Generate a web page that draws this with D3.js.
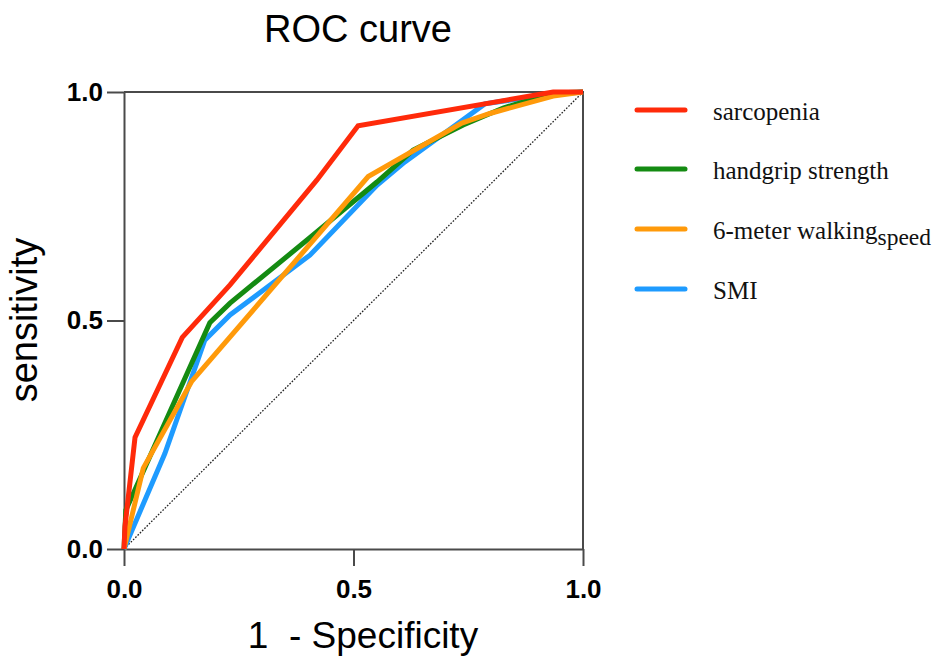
<!DOCTYPE html>
<html>
<head>
<meta charset="utf-8">
<script src="https://cdn.jsdelivr.net/npm/d3@7"></script>
<style>
  html, body { margin: 0; padding: 0; background: #fff; }
  svg { display: block; }
</style>
</head>
<body>
<svg id="chart" width="936" height="660"></svg>
<script>
// ---- data ----
const seriesNames = ["sarcopenia", "handgrip strength", "6-meter walking", "SMI"];
const seriesColors = ["#ff2a0a", "#148b12", "#ff9a0a", "#1e9bff"];

const sarcopeniaFPR = [0, 0.002, 0.024, 0.127, 0.231, 0.420, 0.510, 0.935, 1];
const sarcopeniaTPR = [0, 0.048, 0.244, 0.463, 0.578, 0.807, 0.926, 1.0, 1];

const handgripFPR = [0, 0.004, 0.187, 0.231, 0.412, 0.551, 0.630, 0.739, 0.826, 0.935, 1];
const handgripTPR = [0, 0.085, 0.495, 0.538, 0.687, 0.803, 0.873, 0.928, 0.965, 0.998, 1];

const walkingFPR = [0, 0.042, 0.147, 0.532, 0.736, 0.797, 0.935, 1];
const walkingTPR = [0, 0.177, 0.366, 0.815, 0.932, 0.953, 0.991, 1];

const smiFPR = [0, 0.089, 0.176, 0.231, 0.405, 0.551, 0.612, 0.786, 0.913, 1];
const smiTPR = [0, 0.209, 0.457, 0.512, 0.643, 0.796, 0.847, 0.974, 0.993, 1];

const tickValues = [0, 0.5, 1.0];
const chartTitle = "ROC curve";
const xTitle = "1  - Specificity";
const yTitle = "sensitivity";

(function () {
// ---- layout ----
const svg = d3.select("#chart");
const pLeft = 124, pRight = 583, pTop = 92, pBottom = 549;
const x = d3.scaleLinear().domain([0, 1]).range([pLeft, pRight]);
const y = d3.scaleLinear().domain([0, 1]).range([pBottom, pTop]);
const axisColor = "#4a4a4a";

// frame (top & right)
svg.append("path")
  .attr("d", `M${x(0)},${y(1)}H${x(1)}V${y(0)}`)
  .attr("fill", "none").attr("stroke", axisColor).attr("stroke-width", 2);

// diagonal reference
svg.append("line")
  .attr("x1", x(0)).attr("y1", y(0)).attr("x2", x(1)).attr("y2", y(1))
  .attr("stroke", "#222").attr("stroke-width", 1.3).attr("stroke-dasharray", "1.6,1.6");

// axes
const fmt = d3.format(".1f");
const xAxis = svg.append("g").attr("transform", `translate(0,${pBottom})`)
  .call(d3.axisBottom(x).tickValues(tickValues).tickFormat(fmt).tickSize(17).tickSizeOuter(0).tickPadding(14));
const yAxis = svg.append("g").attr("transform", `translate(${pLeft},0)`)
  .call(d3.axisLeft(y).tickValues(tickValues).tickFormat(fmt).tickSize(17).tickSizeOuter(0).tickPadding(4));
[xAxis, yAxis].forEach(g => {
  g.selectAll("path.domain").attr("stroke", axisColor).attr("stroke-width", 2);
  g.selectAll(".tick line").attr("stroke", axisColor).attr("stroke-width", 2);
  g.selectAll(".tick text")
    .attr("fill", "#000")
    .style("font-family", "'Liberation Sans', Arial, sans-serif")
    .style("font-weight", "bold")
    .style("font-size", "26px");
});

// series lines
const series = [
  { fpr: smiFPR, tpr: smiTPR, color: seriesColors[3] },
  { fpr: handgripFPR, tpr: handgripTPR, color: seriesColors[1] },
  { fpr: walkingFPR, tpr: walkingTPR, color: seriesColors[2] },
  { fpr: sarcopeniaFPR, tpr: sarcopeniaTPR, color: seriesColors[0] }
];
const line = d3.line().x(d => x(d[0])).y(d => y(d[1]));
series.forEach(s => {
  svg.append("path")
    .datum(s.fpr.map((v, i) => [v, s.tpr[i]]))
    .attr("d", line)
    .attr("fill", "none")
    .attr("stroke", s.color)
    .attr("stroke-width", 5)
    .attr("stroke-linejoin", "miter");
});

// titles
const sans = "'Liberation Sans', Arial, sans-serif";
svg.append("text").attr("x", 358).attr("y", 42).attr("text-anchor", "middle")
  .style("font-family", sans).style("font-size", "38px").text(chartTitle);
svg.append("text").attr("x", 363).attr("y", 648).attr("text-anchor", "middle")
  .style("font-family", sans).style("font-size", "37px").style("white-space", "pre")
  .attr("xml:space", "preserve").text(xTitle);
svg.append("text").attr("transform", `translate(37,320) rotate(-90)`).attr("text-anchor", "middle")
  .style("font-family", sans).style("font-size", "38px").text(yTitle);

// legend
const serif = "'Liberation Serif', 'Times New Roman', serif";
const legendY = [110, 169, 229, 289];
seriesNames.forEach((name, i) => {
  const g = svg.append("g");
  g.append("line").attr("x1", 637).attr("x2", 685).attr("y1", legendY[i]).attr("y2", legendY[i])
    .attr("stroke", seriesColors[i]).attr("stroke-width", 5).attr("stroke-linecap", "round");
  const t = g.append("text").attr("x", 713).attr("y", legendY[i] + 10)
    .style("font-family", serif).style("font-size", "25px").attr("fill", "#111").text(name);
  if (i === 2) {
    t.append("tspan").attr("dy", 6).style("font-size", "23.5px").text("speed");
  }
});
})();
</script>
</body>
</html>
